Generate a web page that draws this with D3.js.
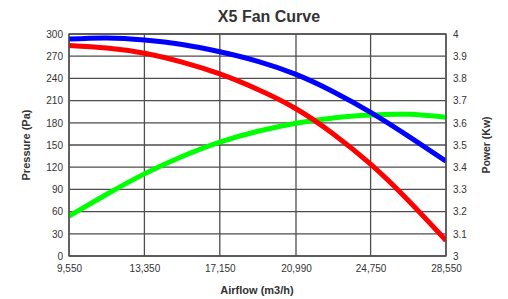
<!DOCTYPE html>
<html>
<head>
<meta charset="utf-8">
<script src="https://cdn.jsdelivr.net/npm/d3@7"></script>
<style>
  html, body { margin: 0; padding: 0; background: #fff; }
  svg { display: block; }
  text { font-family: "Liberation Sans", Arial, sans-serif; fill: #333; }
</style>
</head>
<body>
<svg id="chart" width="508" height="299"></svg>
<script>
// ---- data ----
const airflow = [9550, 11450, 13350, 15250, 17150, 19070, 20990, 22870, 24750, 26650, 28550];
const pressurePa = [284.5, 281, 274, 262, 246, 225, 199, 165, 124, 75, 21];          // red, left axis
const powerKwBlue = [3.977, 3.982, 3.973, 3.953, 3.92, 3.877, 3.818, 3.74, 3.647, 3.54, 3.427]; // blue, right axis
const powerKwGreen = [3.18, 3.278, 3.37, 3.448, 3.513, 3.562, 3.598, 3.622, 3.635, 3.638, 3.625]; // green, right axis
const xTicks = [9550, 13350, 17150, 20990, 24750, 28550];
const yLeftTicks = [0, 30, 60, 90, 120, 150, 180, 210, 240, 270, 300];
const yRightTicks = [3, 3.1, 3.2, 3.3, 3.4, 3.5, 3.6, 3.7, 3.8, 3.9, 4];
const title = "X5 Fan Curve";
const xTitle = "Airflow (m3/h)";
const yLeftTitle = "Pressure (Pa)";
const yRightTitle = "Power (Kw)";

// ---- layout ----
const W = 508, H = 299;
const m = { left: 69, right: 62, top: 34, bottom: 43 };
const pw = W - m.left - m.right, ph = H - m.top - m.bottom;

const svg = d3.select("#chart");
const x = d3.scaleLinear().domain([9550, 28550]).range([m.left, m.left + pw]);
const yL = d3.scaleLinear().domain([0, 300]).range([m.top + ph, m.top]);
const yR = d3.scaleLinear().domain([3, 4]).range([m.top + ph, m.top]);

const gridColor = "#4d4d4d";

// grid
const g = svg.append("g");
g.selectAll("line.h").data(yLeftTicks).join("line")
  .attr("x1", m.left).attr("x2", m.left + pw)
  .attr("y1", d => yL(d)).attr("y2", d => yL(d))
  .attr("stroke", gridColor).attr("stroke-width", 1.3);
g.selectAll("line.v").data(xTicks).join("line")
  .attr("y1", m.top).attr("y2", m.top + ph)
  .attr("x1", d => x(d)).attr("x2", d => x(d))
  .attr("stroke", gridColor).attr("stroke-width", 1.3);

// clip
svg.append("clipPath").attr("id", "clip").append("rect")
  .attr("x", m.left).attr("y", m.top).attr("width", pw).attr("height", ph);

const curve = d3.curveNatural;
const lineL = d3.line().x((d, i) => x(airflow[i])).y(d => yL(d)).curve(curve);
const lineR = d3.line().x((d, i) => x(airflow[i])).y(d => yR(d)).curve(curve);

const lines = svg.append("g").attr("clip-path", "url(#clip)");
lines.append("path").attr("d", lineR(powerKwGreen)).attr("fill", "none")
  .attr("stroke", "#00ff00").attr("stroke-width", 5);
lines.append("path").attr("d", lineR(powerKwBlue)).attr("fill", "none")
  .attr("stroke", "#0000ff").attr("stroke-width", 5);
lines.append("path").attr("d", lineL(pressurePa)).attr("fill", "none")
  .attr("stroke", "#ff0000").attr("stroke-width", 5);

// frame
svg.append("rect").attr("x", m.left).attr("y", m.top).attr("width", pw).attr("height", ph)
  .attr("fill", "none").attr("stroke", gridColor).attr("stroke-width", 1.3);

// axes (labels only, no domain / ticks)
const fmtX = d3.format(",");
const axB = svg.append("g").attr("transform", `translate(0,${m.top + ph})`)
  .call(d3.axisBottom(x).tickValues(xTicks).tickFormat(fmtX).tickSize(0).tickPadding(9));
const axL = svg.append("g").attr("transform", `translate(${m.left},0)`)
  .call(d3.axisLeft(yL).tickValues(yLeftTicks).tickSize(0).tickPadding(6));
const axR = svg.append("g").attr("transform", `translate(${m.left + pw},0)`)
  .call(d3.axisRight(yR).tickValues(yRightTicks).tickFormat(d3.format("")).tickSize(0).tickPadding(7));
[axB, axL, axR].forEach(a => {
  a.select(".domain").remove();
  a.selectAll("text").style("font-family", "'Liberation Sans', Arial, sans-serif")
    .style("font-size", "10px").attr("fill", "#333");
});

// titles
svg.append("text").attr("x", 269).attr("y", 22).attr("text-anchor", "middle")
  .style("font-size", "16px").style("font-weight", "bold").text(title);
svg.append("text").attr("x", 257).attr("y", 294).attr("text-anchor", "middle")
  .style("font-size", "11px").style("font-weight", "bold").text(xTitle);
svg.append("text").attr("transform", `translate(30,${m.top + ph / 2}) rotate(-90)`)
  .attr("text-anchor", "middle")
  .style("font-size", "11px").style("font-weight", "bold").text(yLeftTitle);
svg.append("text").attr("transform", `translate(490,${m.top + ph / 2}) rotate(-90)`)
  .attr("text-anchor", "middle")
  .style("font-size", "10.5px").style("font-weight", "bold").text(yRightTitle);
</script>
</body>
</html>
